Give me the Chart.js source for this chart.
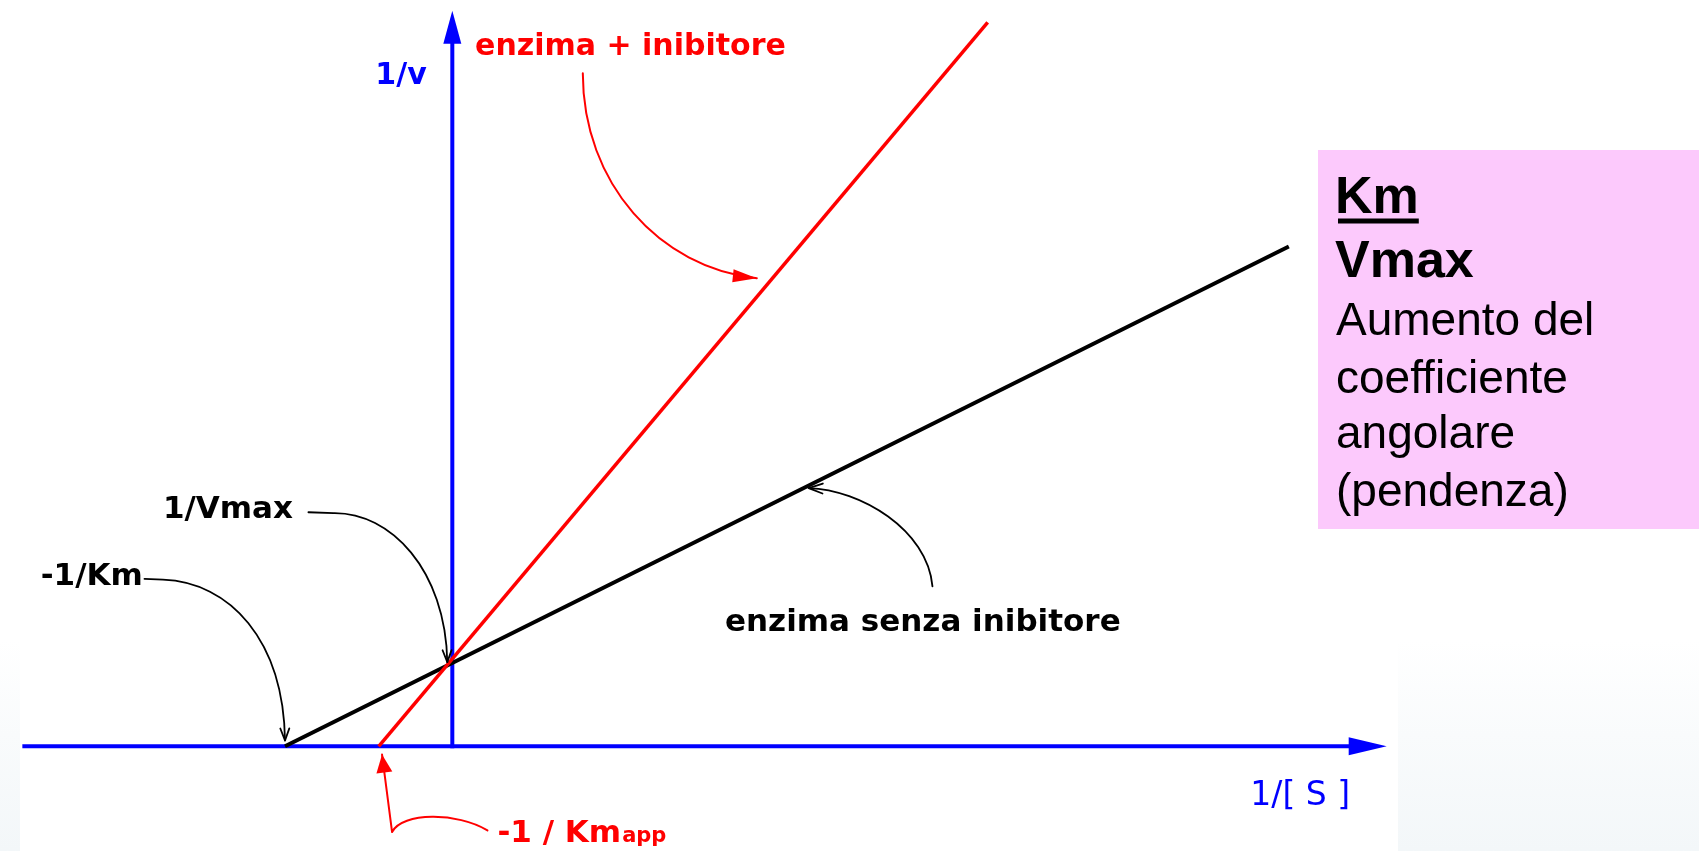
<!DOCTYPE html>
<html lang="it">
<head>
<meta charset="utf-8">
<title>Inibizione competitiva - Lineweaver-Burk</title>
<script src="https://cdn.jsdelivr.net/npm/chart.js@4.4.1/dist/chart.umd.min.js"></script>
<style>
  html, body { margin: 0; padding: 0; }
  body {
    width: 1699px; height: 851px; overflow: hidden; position: relative;
    background: linear-gradient(to bottom, #fff 0px, #fff 640px, #f9fbfc 735px, #f3f7f9 851px);
  }
  #sheet { position: absolute; left: 20px; top: 0; width: 1378px; height: 851px; background: #fff; }
  #wrap { position: absolute; left: 0; top: 0; width: 1699px; height: 851px; }
</style>
</head>
<body>
<div id="sheet"></div>
<div id="wrap"><canvas id="plot"></canvas></div>
<script>
// doppi reciproci: 1/[S] in ascissa, 1/v in ordinata (1/Vmax = 1, -1/Km = -1)
const senzaX = [-1, 5];
const senzaY = [0, 6];
const inibX = [-0.44, 3.2];
const inibY = [0, 8.69];

// estensione degli assi disegnati
const xAxisStart = -2.57;
const xAxisTip = 5.585;
const yAxisTip = 8.83;

const boxLines = ['Aumento del', 'coefficiente', 'angolare', '(pendenza)'];

const BLUE = '#0000ff';
const RED = '#ff0000';

function toPoints(xs, ys) {
  return xs.map((x, i) => ({ x: x, y: ys[i] }));
}

function pt(chart, p) {
  return [chart.scales.x.getPixelForValue(p[0]), chart.scales.y.getPixelForValue(p[1])];
}

function arrowHead(c, tip, from, len, half, solid) {
  const a = Math.atan2(tip[1] - from[1], tip[0] - from[0]);
  const bx = tip[0] - len * Math.cos(a);
  const by = tip[1] - len * Math.sin(a);
  const nx = -Math.sin(a) * half;
  const ny = Math.cos(a) * half;
  c.beginPath();
  c.moveTo(bx + nx, by + ny);
  c.lineTo(tip[0], tip[1]);
  c.lineTo(bx - nx, by - ny);
  if (solid) { c.closePath(); c.fill(); } else { c.stroke(); }
}

// frecce curve dalle etichette (coordinate nelle unita' del grafico)
const pointers = [
  { color: RED, width: 2, head: [24, 6.5, true],
    path: [[0.78, 8.08], [[0.78, 6.76], [1.24, 5.74], [1.82, 5.62]]] },
  { color: '#000', width: 1.8, head: [12, 4.5, false],
    path: [[-0.86, 2.81], [[-0.71, 2.80]], [[-0.37, 2.81], [-0.04, 2.12], [-0.03, 1.01]]] },
  { color: '#000', width: 1.8, head: [12, 4.5, false],
    path: [[-1.84, 2.01], [[-1.73, 2.0]], [[-1.33, 1.97], [-1.01, 1.28], [-1.0, 0.07]]] },
  { color: '#000', width: 1.8, head: [14, 5, false],
    path: [[2.87, 1.92], [[2.84, 2.60], [2.44, 3.08], [2.13, 3.10]]] },
  { color: RED, width: 2, head: [18, 8, true],
    path: [[0.21, -1.01], [[0.03, -0.79], [-0.30, -0.79], [-0.36, -1.03]], [[-0.42, -0.10]]] }
];

const labels = [
  { text: '1/v', at: [-0.46, 7.95], color: BLUE, font: 'bold 30px "DejaVu Sans"' },
  { text: 'enzima + inibitore', at: [0.136, 8.30], color: RED, font: 'bold 30px "DejaVu Sans"' },
  { text: '1/Vmax', at: [-1.73, 2.74], color: '#000', font: 'bold 31px "DejaVu Sans"' },
  { text: '-1/Km', at: [-2.46, 1.94], color: '#000', font: 'bold 31px "DejaVu Sans"' },
  { text: 'enzima senza inibitore', at: [1.63, 1.38], color: '#000', font: 'bold 31px "DejaVu Sans"' },
  { text: '1/[ S ]', at: [4.77, -0.70], color: BLUE, font: '33px "DejaVu Sans"' }
];

function drawPointer(chart, p) {
  const c = chart.ctx;
  c.save();
  c.strokeStyle = p.color;
  c.fillStyle = p.color;
  c.lineWidth = p.width;
  c.lineCap = 'round';
  c.lineJoin = 'round';
  let cur = pt(chart, p.path[0]);
  let prev = cur;
  c.beginPath();
  c.moveTo(cur[0], cur[1]);
  p.path.slice(1).forEach(seg => {
    const q = seg.map(s => pt(chart, s));
    if (q.length === 1) {
      c.lineTo(q[0][0], q[0][1]);
      prev = cur; cur = q[0];
    } else {
      c.bezierCurveTo(q[0][0], q[0][1], q[1][0], q[1][1], q[2][0], q[2][1]);
      prev = q[1]; cur = q[2];
    }
  });
  c.stroke();
  arrowHead(c, cur, prev, p.head[0], p.head[1], p.head[2]);
  c.restore();
}

const diagram = {
  id: 'diagram',
  beforeDatasetsDraw(chart) {
    const c = chart.ctx;
    c.save();
    c.strokeStyle = BLUE;
    c.fillStyle = BLUE;
    c.lineWidth = 4;
    // asse 1/[S]
    const x0 = pt(chart, [xAxisStart, 0]);
    const xt = pt(chart, [xAxisTip, 0]);
    c.beginPath();
    c.moveTo(x0[0], x0[1]);
    c.lineTo(xt[0] - 30, xt[1]);
    c.stroke();
    arrowHead(c, xt, x0, 38, 9, true);
    // asse 1/v
    const y0 = pt(chart, [0, 0]);
    const yt = pt(chart, [0, yAxisTip]);
    c.beginPath();
    c.moveTo(y0[0], y0[1] + 2);
    c.lineTo(yt[0], yt[1] + 28);
    c.stroke();
    arrowHead(c, yt, y0, 33, 9, true);
    c.restore();
  },
  afterDatasetsDraw(chart) {
    const c = chart.ctx;
    pointers.forEach(p => drawPointer(chart, p));

    c.save();
    c.textBaseline = 'alphabetic';
    c.textAlign = 'left';
    labels.forEach(l => {
      const p = pt(chart, l.at);
      c.font = l.font;
      c.fillStyle = l.color;
      c.fillText(l.text, p[0], p[1]);
    });
    // -1 / Km app
    const k = pt(chart, [0.27, -1.15]);
    c.fillStyle = RED;
    c.font = 'bold 31px "DejaVu Sans"';
    c.fillText('-1 / Km', k[0], k[1]);
    const kw = c.measureText('-1 / Km').width;
    c.font = 'bold 21px "DejaVu Sans"';
    c.fillText('app', k[0] + kw + 1, k[1]);
    c.restore();
  },
  afterDraw(chart) {
    const c = chart.ctx;
    c.save();
    c.fillStyle = '#fcc9fc';
    c.fillRect(1318, 150, 381, 379);
    c.fillStyle = '#000';
    c.textBaseline = 'alphabetic';
    c.font = 'bold 52px "Liberation Sans", Arial, sans-serif';
    c.fillText('Km', 1335, 212.7);
    const w = c.measureText('Km').width;
    c.fillRect(1338, 218.5, w - 3, 5);
    c.fillText('Vmax', 1335, 276.7);
    c.font = '46px "Liberation Sans", Arial, sans-serif';
    const base = [335, 392.7, 448.3, 505.5];
    boxLines.forEach((t, i) => c.fillText(t, 1336, base[i]));
    c.restore();
  }
};

new Chart(document.getElementById('plot'), {
  type: 'scatter',
  data: {
    datasets: [
      {
        label: 'enzima + inibitore',
        data: toPoints(inibX, inibY),
        borderColor: RED,
        borderWidth: 3.5,
        showLine: true,
        pointRadius: 0,
        order: 1
      },
      {
        label: 'enzima senza inibitore',
        data: toPoints(senzaX, senzaY),
        borderColor: '#000',
        borderWidth: 4,
        showLine: true,
        pointRadius: 0,
        order: 2
      }
    ]
  },
  options: {
    responsive: true,
    maintainAspectRatio: false,
    animation: false,
    events: [],
    layout: { padding: { left: 0.6, right: 309.8, top: 0.8, bottom: 0.6 } },
    scales: {
      x: { type: 'linear', display: false, min: -2.7, max: 5.6 },
      y: { type: 'linear', display: false, min: -1.25, max: 8.95 }
    },
    plugins: {
      legend: { display: false },
      tooltip: { enabled: false }
    }
  },
  plugins: [diagram]
});
</script>
</body>
</html>
